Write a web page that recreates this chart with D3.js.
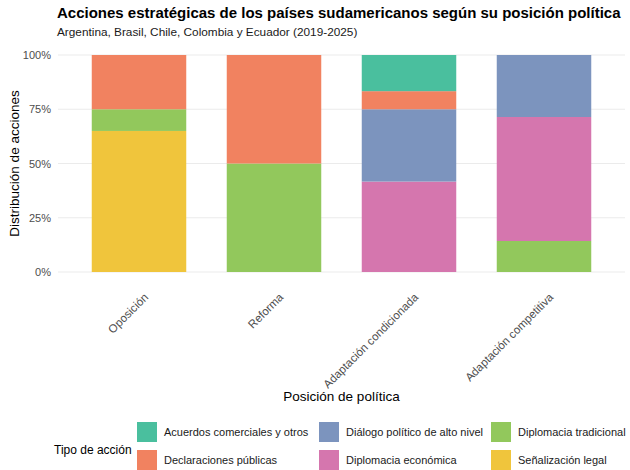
<!DOCTYPE html>
<html>
<head>
<meta charset="utf-8">
<script src="https://cdn.jsdelivr.net/npm/d3@7"></script>
<style>
  body { margin: 0; background: #fff; }
  text { font-family: "Liberation Sans", Arial, sans-serif; }
</style>
</head>
<body>
<svg id="chart"></svg>
<script>
// Positions on the x axis
const posiciones = ["Oposición", "Reforma", "Adaptación condicionada", "Adaptación competitiva"];

// Action types, in legend / stacking order (first one sits on top)
const tipos = [
  "Acuerdos comerciales y otros",
  "Declaraciones públicas",
  "Diálogo político de alto nivel",
  "Diplomacia económica",
  "Diplomacia tradicional",
  "Señalización legal"
];
const colores = ["#4abf9e", "#f18260", "#7c94be", "#d576ae", "#92c85c", "#f0c53c"];

// Share of actions per position (one array per action type, same order as posiciones)
const acuerdos      = [0, 0, 2 / 12, 0];
const declaraciones = [0.25, 0.5, 1 / 12, 0];
const dialogo       = [0, 0, 4 / 12, 2 / 7];
const economica     = [0, 0, 5 / 12, 4 / 7];
const tradicional   = [0.10, 0.5, 0, 1 / 7];
const senalizacion  = [0.65, 0, 0, 0];

const yTicks = [0, 0.25, 0.5, 0.75, 1];

const seriesValues = [acuerdos, declaraciones, dialogo, economica, tradicional, senalizacion];

const width = 630;
const height = 470;
const margin = { top: 55, right: 5, bottom: 198, left: 58 };

const svg = d3.select("#chart").attr("width", width).attr("height", height);

const x = d3.scalePoint()
  .domain(posiciones)
  .range([margin.left, width - margin.right])
  .padding(0.6);
const step = x.step();
const barWidth = step * 0.7;

const y = d3.scaleLinear()
  .domain([0, 1])
  .range([height - margin.bottom, margin.top]);

const color = d3.scaleOrdinal().domain(tipos).range(colores);

// Build rows for d3.stack; bottom layer is the last type
const rows = posiciones.map((p, i) => {
  const row = { posicion: p };
  tipos.forEach((t, j) => { row[t] = seriesValues[j][i]; });
  return row;
});
const stack = d3.stack().keys(tipos.slice().reverse());
const layers = stack(rows);

// Title and subtitle
svg.append("text")
  .attr("x", 57)
  .attr("y", 18)
  .text("Acciones estratégicas de los países sudamericanos según su posición política")
  .style("font-size", "15px")
  .style("font-weight", "bold")
  .style("fill", "#000");

svg.append("text")
  .attr("x", 57)
  .attr("y", 36)
  .text("Argentina, Brasil, Chile, Colombia y Ecuador (2019-2025)")
  .style("font-size", "11.8px")
  .style("fill", "#1a1a1a");

// Grid lines
svg.append("g")
  .selectAll("line")
  .data(yTicks)
  .enter()
  .append("line")
  .attr("x1", margin.left)
  .attr("x2", width - margin.right)
  .attr("y1", (d) => y(d))
  .attr("y2", (d) => y(d))
  .attr("stroke", "#ebebeb")
  .attr("stroke-width", 1);

// Y axis labels
const yAxis = svg.append("g")
  .attr("transform", `translate(${margin.left - 7},0)`)
  .call(d3.axisLeft(y).tickValues(yTicks).tickFormat(d3.format(".0%")).tickSize(0).tickPadding(0));
yAxis.select(".domain").remove();
yAxis.selectAll("text")
  .style("font-family", "'Liberation Sans', Arial, sans-serif")
  .style("font-size", "11px")
  .style("fill", "#4d4d4d");

// Bars
svg.append("g")
  .selectAll("g")
  .data(layers)
  .enter()
  .append("g")
  .attr("fill", (d) => color(d.key))
  .selectAll("rect")
  .data((d) => d)
  .enter()
  .append("rect")
  .attr("x", (d) => x(d.data.posicion) - barWidth / 2)
  .attr("width", barWidth)
  .attr("y", (d) => y(d[1]))
  .attr("height", (d) => y(d[0]) - y(d[1]));

// X axis labels, rotated 45 degrees
svg.append("g")
  .selectAll("text")
  .data(posiciones)
  .enter()
  .append("text")
  .attr("transform", (d) => `translate(${x(d) + 10},${height - margin.bottom + 26}) rotate(-45)`)
  .attr("text-anchor", "end")
  .text((d) => d)
  .style("font-size", "11.5px")
  .style("fill", "#4d4d4d");

// Axis titles
svg.append("text")
  .attr("x", (margin.left + width - margin.right) / 2)
  .attr("y", 401)
  .attr("text-anchor", "middle")
  .text("Posición de política")
  .style("font-size", "13.5px")
  .style("fill", "#000");

svg.append("text")
  .attr("transform", `translate(19,${(y(0) + y(1)) / 2}) rotate(-90)`)
  .attr("text-anchor", "middle")
  .text("Distribución de acciones")
  .style("font-size", "13.5px")
  .style("fill", "#000");

// Legend: 2 rows, filled by column
const legend = svg.append("g");
legend.append("text")
  .attr("x", 54)
  .attr("y", 450)
  .attr("dy", "0.35em")
  .text("Tipo de acción")
  .style("font-size", "12px")
  .style("fill", "#000");

const colX = [137, 319, 491];
const rowY = [422, 450];
const items = legend.selectAll("g.item")
  .data(tipos)
  .enter()
  .append("g")
  .attr("class", "item")
  .attr("transform", (d, i) => `translate(${colX[Math.floor(i / 2)]},${rowY[i % 2]})`);

items.append("rect")
  .attr("width", 20)
  .attr("height", 20)
  .attr("fill", (d) => color(d));

items.append("text")
  .attr("x", 27)
  .attr("y", 10)
  .attr("dy", "0.35em")
  .text((d) => d)
  .style("font-size", "11px")
  .style("fill", "#1a1a1a");
</script>
</body>
</html>
